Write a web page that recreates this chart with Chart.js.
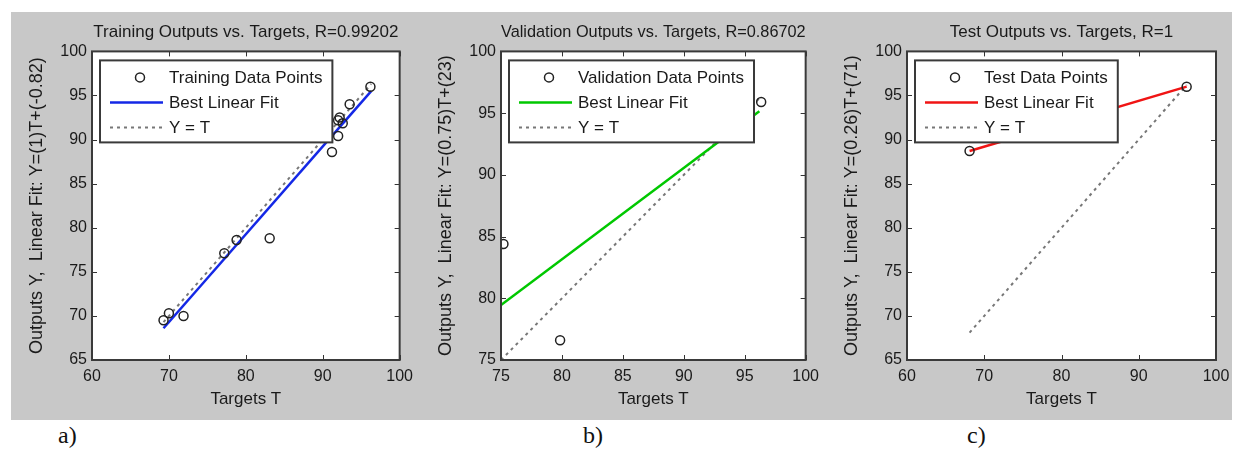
<!DOCTYPE html>
<html>
<head>
<meta charset="utf-8">
<script src="https://cdn.jsdelivr.net/npm/chart.js@4"></script>
<style>
  body { margin: 0; width: 1240px; height: 452px; background: #fff; position: relative; overflow: hidden; }
  #fundo { position: absolute; left: 11px; top: 12px; width: 1221px; height: 408px; background: #c8c8c8; }
  .painel { position: absolute; top: 12px; height: 408px; }
  .letra { position: absolute; top: 422px; font: 24px "Liberation Serif", serif; color: #111; }
</style>
</head>
<body>
<div id="fundo"></div>
<div class="painel" style="left:11px;width:409px"><canvas id="treino"></canvas></div>
<div class="painel" style="left:420px;width:406px"><canvas id="validacao"></canvas></div>
<div class="painel" style="left:826px;width:414px"><canvas id="teste"></canvas></div>
<div class="letra" style="left:58px">a)</div>
<div class="letra" style="left:583px">b)</div>
<div class="letra" style="left:967px">c)</div>

<script>
// Treino (a)
const treinoT = [69.3, 70.0, 71.9, 77.2, 78.8, 83.1, 91.2, 92.0, 92.6, 92.0, 92.2, 93.5, 96.2];
const treinoY = [69.5, 70.3, 70.0, 77.1, 78.6, 78.8, 88.6, 90.4, 91.85, 92.2, 92.5, 94.0, 96.0];
const treinoAjusteT = [69.3, 96.3];
const treinoAjusteY = [68.6, 95.5];
const treinoIdT = [69.3, 96.3];

// Validação (b)
const valT = [75.2, 79.85, 96.35];
const valY = [84.4, 76.6, 95.9];
const valAjusteT = [75.0, 96.2];
const valAjusteY = [79.45, 95.15];
const valIdT = [75.0, 96.3];

// Teste (c)
const testeT = [68.1, 96.2];
const testeY = [88.7, 96.0];
const testeAjusteT = [68.1, 96.2];
const testeAjusteY = [88.7, 96.0];
const testeIdT = [68.1, 96.2];

// ticks
const ticksX60 = [60, 70, 80, 90, 100];
const ticksY65 = [65, 70, 75, 80, 85, 90, 95, 100];
const ticksX75 = [75, 80, 85, 90, 95, 100];
const ticksY75 = [75, 80, 85, 90, 95, 100];

const FONTE = '"Liberation Sans", Arial, sans-serif';
const COR_TEXTO = '#1a1a1a';

function pares(xs, ys) {
  return xs.map((x, i) => ({ x: x, y: ys[i] }));
}

// fundo branco da área do gráfico
const fundoBranco = {
  id: 'fundoBranco',
  beforeDraw(chart) {
    const { ctx, chartArea: a } = chart;
    ctx.save();
    ctx.fillStyle = '#fff';
    ctx.fillRect(a.left, a.top, a.width, a.height);
    ctx.restore();
  }
};

// legenda em caixa, estilo matlab
const caixaLegenda = {
  id: 'caixaLegenda',
  afterDatasetsDraw(chart) {
    const { ctx, chartArea: a } = chart;
    const itens = chart.data.datasets;
    ctx.save();
    ctx.font = '17px ' + FONTE;
    let w = 0;
    itens.forEach(d => { w = Math.max(w, ctx.measureText(d.label).width); });
    const x0 = a.left + 8, y0 = a.top + 9;
    const bw = 69 + w + 10, bh = 82;
    ctx.fillStyle = '#fff';
    ctx.fillRect(x0, y0, bw, bh);
    ctx.strokeStyle = '#3a3a3a';
    ctx.lineWidth = 2;
    ctx.strokeRect(x0, y0, bw, bh);
    itens.forEach((d, i) => {
      const cy = y0 + 17 + i * 25;
      if (d.showLine === false) {
        ctx.beginPath();
        ctx.arc(x0 + 40, cy, 4.5, 0, Math.PI * 2);
        ctx.strokeStyle = d.pointBorderColor;
        ctx.lineWidth = 1.5;
        ctx.setLineDash([]);
        ctx.stroke();
      } else {
        ctx.beginPath();
        ctx.moveTo(x0 + 10, cy);
        ctx.lineTo(x0 + 63, cy);
        ctx.strokeStyle = d.borderColor;
        ctx.lineWidth = d.borderWidth;
        ctx.setLineDash(d.borderDash || []);
        ctx.stroke();
      }
      ctx.setLineDash([]);
      ctx.fillStyle = COR_TEXTO;
      ctx.textBaseline = 'middle';
      ctx.textAlign = 'left';
      ctx.fillText(d.label, x0 + 69, cy + 1);
    });
    ctx.restore();
  }
};

// moldura e marcas para dentro
const moldura = {
  id: 'moldura',
  afterDraw(chart) {
    const { ctx, chartArea: a, scales } = chart;
    const sx = scales.x, sy = scales.y;
    ctx.save();
    ctx.strokeStyle = '#333';
    ctx.lineWidth = 1;
    sx.ticks.forEach(t => {
      const px = Math.round(sx.getPixelForValue(t.value)) + 0.5;
      ctx.beginPath();
      ctx.moveTo(px, a.bottom); ctx.lineTo(px, a.bottom - 5);
      ctx.moveTo(px, a.top); ctx.lineTo(px, a.top + 5);
      ctx.stroke();
    });
    sy.ticks.forEach(t => {
      const py = Math.round(sy.getPixelForValue(t.value)) + 0.5;
      ctx.beginPath();
      ctx.moveTo(a.left, py); ctx.lineTo(a.left + 5, py);
      ctx.moveTo(a.right, py); ctx.lineTo(a.right - 5, py);
      ctx.stroke();
    });
    ctx.strokeStyle = '#3a3a3a';
    ctx.lineWidth = 2;
    ctx.strokeRect(a.left, a.top, a.width, a.height);
    ctx.restore();
  }
};

function criarPainel(id, p) {
  const ctx = document.getElementById(id).getContext('2d');
  return new Chart(ctx, {
    type: 'scatter',
    data: {
      datasets: [{
        label: p.nomePontos,
        data: pares(p.t, p.y),
        showLine: false,
        pointRadius: 4.5,
        pointBorderWidth: 1.5,
        pointBorderColor: '#222',
        pointBackgroundColor: 'rgba(0,0,0,0)',
        order: 0
      }, {
        label: 'Best Linear Fit',
        data: pares(p.ajusteT, p.ajusteY),
        showLine: true,
        borderColor: p.cor,
        borderWidth: 2.5,
        pointRadius: 0,
        order: 1
      }, {
        label: 'Y = T',
        data: pares(p.idT, p.idT),
        showLine: true,
        borderColor: '#777',
        borderWidth: 2,
        borderDash: [3, 4],
        pointRadius: 0,
        order: 2
      }]
    },
    options: {
      responsive: true,
      maintainAspectRatio: false,
      animation: false,
      layout: { padding: { left: 0, right: p.direita, top: 0, bottom: 0 } },
      plugins: {
        legend: { display: false },
        tooltip: { enabled: false },
        title: {
          display: true,
          fullSize: false,
          text: p.titulo,
          color: COR_TEXTO,
          font: { family: FONTE, size: 17, weight: 'normal' },
          padding: { top: 10, bottom: 9 }
        }
      },
      scales: {
        x: {
          type: 'linear',
          min: p.xMin, max: 100,
          afterBuildTicks: s => { s.ticks = p.ticksX.map(v => ({ value: v })); },
          afterFit: s => { s.height = 60; },
          grid: { display: false, drawTicks: false },
          border: { display: false },
          ticks: { color: COR_TEXTO, padding: 7, font: { family: FONTE, size: 16 } },
          title: {
            display: true, text: 'Targets T', color: COR_TEXTO,
            font: { family: FONTE, size: 17 },
            padding: { top: 0, bottom: 10 }
          }
        },
        y: {
          type: 'linear',
          min: p.yMin, max: 100,
          afterBuildTicks: s => { s.ticks = p.ticksY.map(v => ({ value: v })); },
          afterFit: s => { s.width = 81; },
          grid: { display: false, drawTicks: false },
          border: { display: false },
          ticks: { color: COR_TEXTO, padding: 5, font: { family: FONTE, size: 16 } },
          title: {
            display: true, text: p.rotuloY, color: COR_TEXTO,
            font: { family: FONTE, size: 18 },
            padding: { top: 15, bottom: 0 }
          }
        }
      }
    },
    plugins: [fundoBranco, caixaLegenda, moldura]
  });
}

criarPainel('treino', {
  titulo: 'Training Outputs vs. Targets, R=0.99202',
  rotuloY: 'Outputs Y,  Linear Fit: Y=(1)T+(-0.82)',
  nomePontos: 'Training Data Points',
  t: treinoT, y: treinoY,
  ajusteT: treinoAjusteT, ajusteY: treinoAjusteY, idT: treinoIdT,
  cor: '#1428e6',
  xMin: 60, yMin: 65, ticksX: ticksX60, ticksY: ticksY65,
  direita: 18
});

criarPainel('validacao', {
  titulo: 'Validation Outputs vs. Targets, R=0.86702',
  rotuloY: 'Outputs Y,  Linear Fit: Y=(0.75)T+(23)',
  nomePontos: 'Validation Data Points',
  t: valT, y: valY,
  ajusteT: valAjusteT, ajusteY: valAjusteY, idT: valIdT,
  cor: '#00c800',
  xMin: 75, yMin: 75, ticksX: ticksX75, ticksY: ticksY75,
  direita: 17
});

criarPainel('teste', {
  titulo: 'Test Outputs vs. Targets, R=1',
  rotuloY: 'Outputs Y,  Linear Fit: Y=(0.26)T+(71)',
  nomePontos: 'Test Data Points',
  t: testeT, y: testeY,
  ajusteT: testeAjusteT, ajusteY: testeAjusteY, idT: testeIdT,
  cor: '#f01414',
  xMin: 60, yMin: 65, ticksX: ticksX60, ticksY: ticksY65,
  direita: 24
});
</script>
</body>
</html>
